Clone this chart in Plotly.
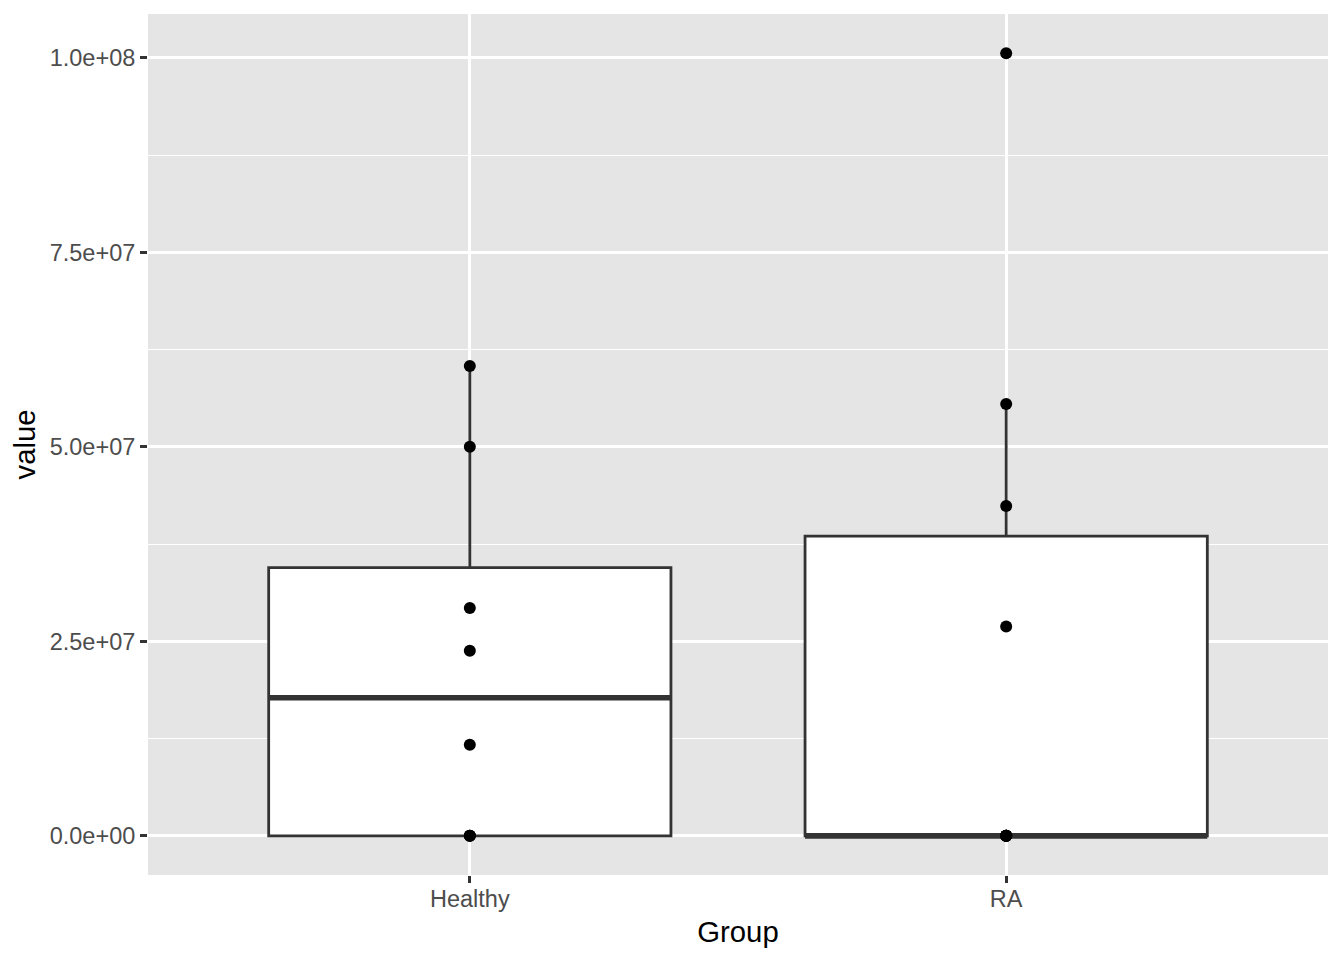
import numpy as np
import plotly.graph_objects as go

# ---- data ----
groups = ["Healthy", "RA"]
healthy_values = [0.0, 0.0, 0.0, 11.7e6, 23.8e6, 29.3e6, 50.0e6, 60.4e6]
ra_values = [0.0, 0.0, 0.0, 0.0, 0.0, 0.0, 26.9e6, 42.4e6, 55.5e6, 100.6e6]
y_tick_vals = [0, 2.5e7, 5.0e7, 7.5e7, 1.0e8]
y_tick_text = ["0.0e+00", "2.5e+07", "5.0e+07", "7.5e+07", "1.0e+08"]
y_minor_vals = [1.25e7, 3.75e7, 6.25e7, 8.75e7]

series = [healthy_values, ra_values]

# ---- style ----
BOX_W = 0.75
LINE = "#333333"
FONT = "Liberation Sans, Arial, sans-serif"

fig = go.Figure()

all_vals = []
for i, (name, vals) in enumerate(zip(groups, series)):
    v = np.array(vals, dtype=float)
    all_vals.extend(vals)
    q1, med, q3 = np.percentile(v, [25, 50, 75])
    iqr = q3 - q1
    upper = v[v <= q3 + 1.5 * iqr].max()
    lower = v[v >= q1 - 1.5 * iqr].min()
    fig.add_trace(go.Box(
        x=[i], q1=[q1], median=[med], q3=[q3],
        lowerfence=[lower], upperfence=[upper],
        width=BOX_W, whiskerwidth=0, boxpoints=False,
        fillcolor="white", line=dict(color=LINE, width=2.8),
        showlegend=False, hoverinfo="skip", name=name,
    ))
    # thicker median line (ggplot fatten = 2)
    fig.add_trace(go.Scatter(
        x=[i - BOX_W / 2, i + BOX_W / 2], y=[med, med], mode="lines",
        line=dict(color=LINE, width=5.6), showlegend=False, hoverinfo="skip",
    ))
    fig.add_trace(go.Scatter(
        x=[i] * len(vals), y=vals, mode="markers",
        marker=dict(color="black", size=12, line=dict(width=0)),
        showlegend=False,
    ))

lo, hi = min(all_vals), max(all_vals)
pad = 0.05 * (hi - lo)

fig.update_layout(
    width=1344, height=960,
    margin=dict(l=140, r=24, t=6, b=93),
    paper_bgcolor="white", plot_bgcolor="#E5E5E5",
    font=dict(family=FONT),
)
fig.update_xaxes(
    range=[-0.6, len(groups) - 1 + 0.6],
    tickmode="array", tickvals=list(range(len(groups))), ticktext=groups,
    showgrid=True, gridcolor="white", gridwidth=2.85, zeroline=False,
    ticks="outside", ticklen=7, tickwidth=2.8, tickcolor=LINE,
    ticklabelstandoff=-4,
    tickfont=dict(size=23.5, color="#4D4D4D", family=FONT),
    title=dict(text="Group", font=dict(size=29.3, color="black", family=FONT), standoff=10),
    showline=False,
)
fig.update_yaxes(
    range=[lo - pad, hi + pad],
    tickmode="array", tickvals=y_tick_vals, ticktext=y_tick_text,
    showgrid=True, gridcolor="white", gridwidth=2.85, zeroline=False,
    minor=dict(tickmode="array", tickvals=y_minor_vals, showgrid=True,
               gridcolor="white", gridwidth=1.4, ticklen=0),
    ticks="outside", ticklen=7, tickwidth=2.8, tickcolor=LINE,
    tickfont=dict(size=23.5, color="#4D4D4D", family=FONT),
    title=dict(text="value", font=dict(size=29.3, color="black", family=FONT), standoff=12),
    showline=False,
)

fig.write_html("out.html")
